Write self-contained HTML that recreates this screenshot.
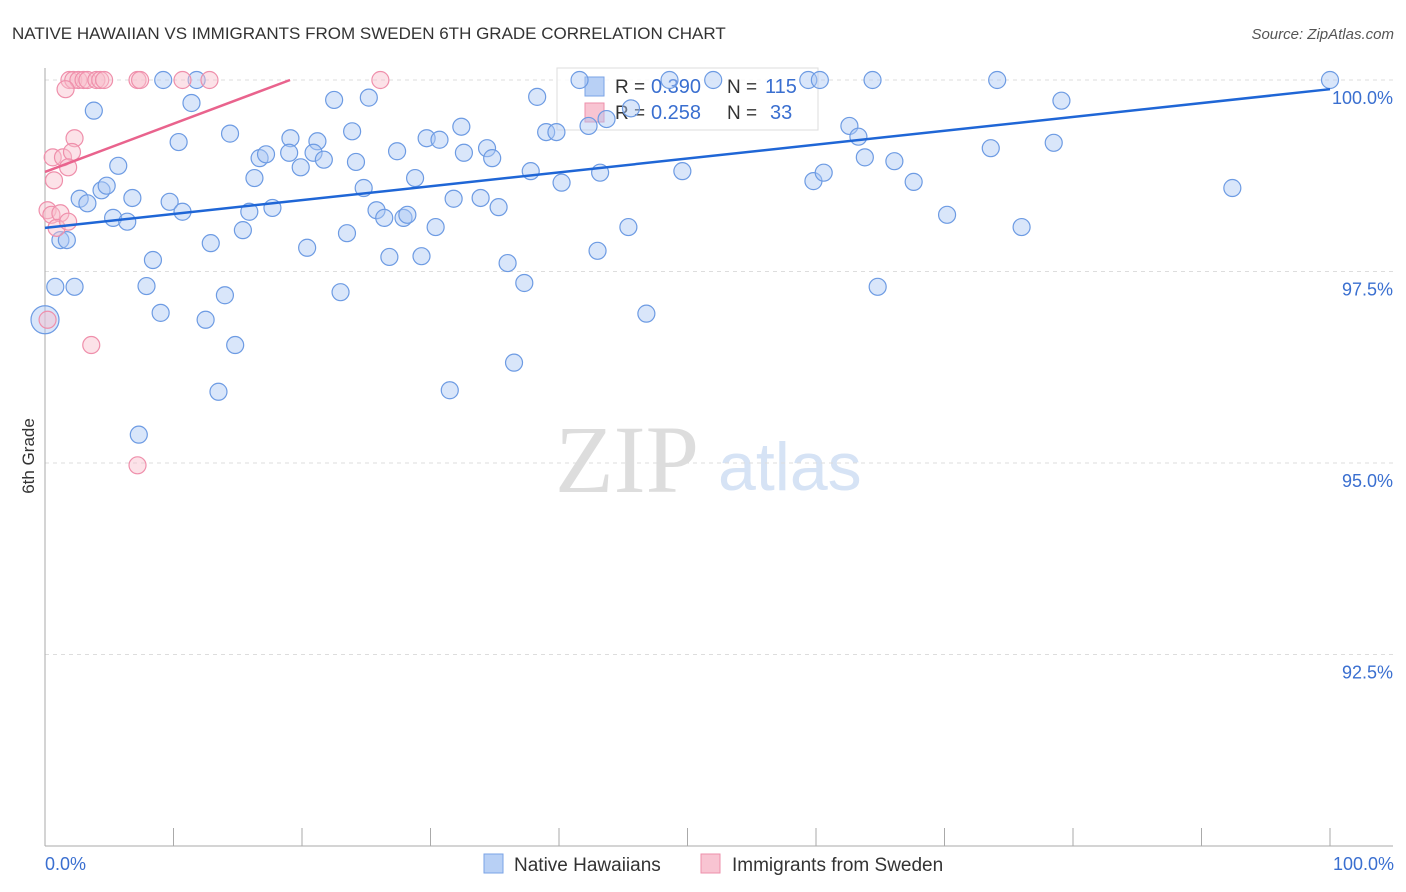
<!DOCTYPE html>
<html><head><meta charset="utf-8"><style>
body{margin:0;background:#fff;font-family:"Liberation Sans",sans-serif}
svg{display:block}
</style></head><body>
<svg width="1406" height="892" id="c">
<text x="12" y="39" font-size="17" fill="#333">NATIVE HAWAIIAN VS IMMIGRANTS FROM SWEDEN 6TH GRADE CORRELATION CHART</text>
<text x="1394" y="39" font-size="15" fill="#555" text-anchor="end" font-style="italic">Source: ZipAtlas.com</text>
<text x="555" y="492" font-size="96" fill="#ddd" font-family="Liberation Serif">ZIP</text>
<text x="718" y="490" font-size="68" fill="#d6e3f5">atlas</text>
<g id="grid"></g><g id="axes"></g>
<g>
<rect x="557" y="68" width="261" height="62" fill="#fff" fill-opacity="0.85" stroke="#ddd"/>
<rect x="585" y="77" width="19" height="19" fill="#b8d0f5" stroke="#7aa3e6"/>
<rect x="585" y="103" width="19" height="19" fill="#f8c4d2" stroke="#ee8fab"/>
<text x="615" y="93" font-size="19" fill="#333">R =</text>
<text x="651" y="93" font-size="20" fill="#3a6fd0">0.390</text>
<text x="727" y="93" font-size="19" fill="#333">N =</text>
<text x="765" y="93" font-size="20" fill="#3a6fd0">115</text>
<text x="615" y="119" font-size="19" fill="#333">R =</text>
<text x="651" y="119" font-size="20" fill="#3a6fd0">0.258</text>
<text x="727" y="119" font-size="19" fill="#333">N =</text>
<text x="770" y="119" font-size="20" fill="#3a6fd0">33</text>
</g>
<g id="pts"></g><g id="trend"></g>
<text transform="translate(34,456) rotate(-90)" font-size="17" fill="#333" text-anchor="middle">6th Grade</text>
<text x="45" y="870" font-size="18" fill="#3a6fd0">0.0%</text>
<text x="1394" y="870" font-size="18" fill="#3a6fd0" text-anchor="end">100.0%</text>
<g>
<rect x="484" y="854" width="19" height="19" fill="#b8d0f5" stroke="#7aa3e6"/>
<text x="514" y="871" font-size="19" fill="#333">Native Hawaiians</text>
<rect x="701" y="854" width="19" height="19" fill="#f8c4d2" stroke="#ee8fab"/>
<text x="732" y="871" font-size="19" fill="#333">Immigrants from Sweden</text>
</g>
</svg>
<script>
const yTicks=[100,97.5,95,92.5];
const yTickLabels=["100.0%","97.5%","95.0%","92.5%"];
const xTicks=[0,10,20,30,40,50,60,70,80,90,100];
const blueX=[9.2,11.8,41.6,48.6,52.0,59.4,60.3,64.4,74.1,100,3.8,11.4,22.5,25.2,38.3,79.1,10.4,14.4,19.1,21.2,23.9,29.7,30.7,32.4,34.4,39.0,39.8,42.3,43.7,62.6,63.3,78.5,5.7,16.7,17.2,19.0,19.9,20.9,21.7,24.2,27.4,32.6,34.8,63.8,66.1,73.6,2.7,3.3,4.4,4.8,6.8,9.7,10.7,16.3,15.9,17.7,15.4,24.8,25.8,26.4,27.9,28.2,28.8,31.8,33.9,35.3,37.8,40.2,43.2,49.6,59.8,60.6,67.6,70.2,92.4,5.3,6.4,12.9,20.4,23.5,30.4,45.4,76.0,1.2,1.7,8.4,26.8,29.3,36.0,43.0,0.8,2.3,7.9,14.0,23.0,37.3,64.8,9.0,12.5,46.8,14.8,36.5,13.5,31.5,7.3,45.6];
const blueY=[100,100,100,100,100,100,100,100,100,100,99.60,99.70,99.74,99.77,99.78,99.73,99.19,99.30,99.24,99.20,99.33,99.24,99.22,99.39,99.11,99.32,99.32,99.40,99.49,99.40,99.26,99.18,98.88,98.98,99.03,99.05,98.86,99.05,98.96,98.93,99.07,99.05,98.98,98.99,98.94,99.11,98.45,98.39,98.56,98.62,98.46,98.41,98.28,98.72,98.28,98.33,98.04,98.59,98.30,98.20,98.20,98.24,98.72,98.45,98.46,98.34,98.81,98.66,98.79,98.81,98.68,98.79,98.67,98.24,98.59,98.20,98.15,97.87,97.81,98.00,98.08,98.08,98.08,97.91,97.91,97.65,97.69,97.70,97.61,97.77,97.30,97.30,97.31,97.19,97.23,97.35,97.30,96.96,96.87,96.95,96.54,96.31,95.93,95.95,95.37,99.63];
const pinkX=[1.9,2.2,2.6,3.0,3.3,4.0,4.3,4.6,7.2,7.4,10.7,12.8,26.1,1.6,2.3,0.6,1.4,2.1,1.8,0.7,0.2,0.5,1.2,0.9,1.8,0.2,3.6,7.2];
const pinkY=[100,100,100,100,100,100,100,100,100,100,100,100,100,99.88,99.24,98.99,98.99,99.06,98.86,98.69,98.30,98.24,98.26,98.07,98.15,96.87,96.54,94.97];
const blueTrend=[[0,98.07],[100,99.88]];
const pinkTrend=[[0,98.80],[19.07,100]];
const X=v=>45+v*12.85, Y=v=>80+(100-v)*76.6;
const NS="http://www.w3.org/2000/svg";
function mk(t,a,p){const e=document.createElementNS(NS,t);for(const k in a)e.setAttribute(k,a[k]);document.getElementById(p).appendChild(e);return e;}
yTicks.forEach((t,i)=>{
 const l=mk('line',{x1:45,x2:1393,y1:Y(t),y2:Y(t),stroke:'#ddd','stroke-dasharray':'4,4'},'grid');
 
 
 const tx=mk('text',{x:1393,y:Y(t)+24,'font-size':18,fill:'#3a6fd0','text-anchor':'end'},'grid');
 tx.textContent=yTickLabels[i];
 
 
});
let a=mk('line',{x1:45,x2:45,y1:68,y2:846,stroke:'#aaa'},'axes');


a=mk('line',{x1:45,x2:1393,y1:846,y2:846,stroke:'#aaa'},'axes');


xTicks.forEach(t=>{
 const l=mk('line',{x1:X(t),x2:X(t),y1:828,y2:846,stroke:'#aaa'},'axes');
 
 
});
blueX.forEach((x,i)=>{
 const c=mk('circle',{cx:X(x),cy:Y(blueY[i]),r:8.5,fill:'rgba(170,200,245,0.45)',stroke:'#6d9be3','stroke-width':1.2},'pts');
 
 
});
const big=mk('circle',{cx:X(0),cy:Y(96.87),r:14,fill:'rgba(170,200,245,0.45)',stroke:'#6d9be3','stroke-width':1.2},'pts');


pinkX.forEach((x,i)=>{
 const c=mk('circle',{cx:X(x),cy:Y(pinkY[i]),r:8.5,fill:'rgba(248,190,205,0.45)',stroke:'#ef8fab','stroke-width':1.2},'pts');
 
 
});
let t=mk('line',{x1:X(blueTrend[0][0]),y1:Y(blueTrend[0][1]),x2:X(blueTrend[1][0]),y2:Y(blueTrend[1][1]),stroke:'#1f66d6','stroke-width':2.5},'trend');


t=mk('line',{x1:X(pinkTrend[0][0]),y1:Y(pinkTrend[0][1]),x2:X(pinkTrend[1][0]),y2:Y(pinkTrend[1][1]),stroke:'#e9638d','stroke-width':2.5},'trend');


</script>
</body></html>
